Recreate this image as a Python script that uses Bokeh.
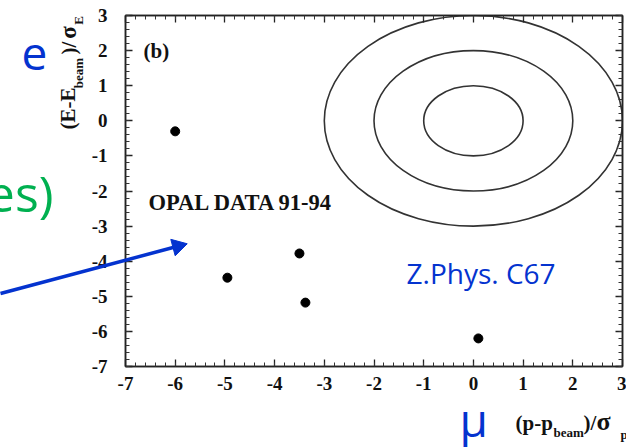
import math
from bokeh.plotting import figure
from bokeh.models import LinearAxis, SingleIntervalTicker, Range1d
from bokeh.core.properties import value
from bokeh.embed import file_html
from bokeh.resources import INLINE

# ---- data ----
mu_dev = [-6.00, -4.95, -3.50, -3.38, 0.10]   # (p - p_beam)/sigma_p
e_dev = [-0.30, -4.47, -3.78, -5.18, -6.20]   # (E - E_beam)/sigma_E
contour_sigma = [1, 2, 3]                      # expected-signal contours
x_ticks = [-7, -6, -5, -4, -3, -2, -1, 0, 1, 2, 3]
y_ticks = [-7, -6, -5, -4, -3, -2, -1, 0, 1, 2, 3]

BLUE = "#0433CF"
GREEN = "#00B050"
SERIF = "Liberation Serif"
SANS = "Open Sans"

p = figure(width=626, height=447, x_range=Range1d(-7, 3), y_range=Range1d(-7, 3),
           output_backend="svg", toolbar_location=None,
           min_border_left=125, min_border_right=4, min_border_top=15, min_border_bottom=81)
p.grid.visible = False
p.outline_line_color = "#222222"
p.outline_line_width = 1.5
p.background_fill_color = "white"
p.border_fill_color = "white"

p.add_layout(LinearAxis(), "above")
p.add_layout(LinearAxis(), "right")

for ax, ticks in ((p.below[0], x_ticks), (p.left[0], y_ticks), (p.above[0], x_ticks), (p.right[0], y_ticks)):
    ax.ticker = SingleIntervalTicker(interval=1, num_minor_ticks=5)
    ax.major_tick_in = 7
    ax.major_tick_out = 0
    ax.minor_tick_in = 4
    ax.minor_tick_out = 0
    ax.axis_line_color = "#222222"
    ax.axis_line_width = 1.5
    ax.major_tick_line_color = "#222222"
    ax.major_tick_line_width = 1.3
    ax.minor_tick_line_color = "#333333"
    ax.minor_tick_line_width = 1
    ax.major_label_text_font = SERIF
    ax.major_label_text_font_style = "bold"
    ax.major_label_text_font_size = "19px"
    ax.major_label_text_color = "#111111"
    ax.major_label_overrides = {t: str(t) for t in ticks}

p.below[0].major_label_standoff = 10
p.left[0].major_label_standoff = 18
for ax, ticks in ((p.above[0], x_ticks), (p.right[0], y_ticks)):
    ax.major_label_overrides = {t: "" for t in ticks}
    ax.major_label_standoff = 0

# contours
p.ellipse(x=[0] * len(contour_sigma), y=[0] * len(contour_sigma),
          width=[2 * r for r in contour_sigma], height=[2 * r for r in contour_sigma],
          fill_color=None, line_color="#333333", line_width=1.6)

# events
p.scatter(mu_dev, e_dev, size=9, color="black")

# ---- annotation placement helpers (picture pixels -> data space) ----
def dx(px):
    return -7 + (px - 125) * 10 / 497

def dy(py):
    return -7 + (366 - py) * 10 / 351

K = 0.36  # baseline correction of the text glyph, in em

def lab(text, px, py, size, font=SERIF, style="bold", color="#111111", align="left"):
    py = py - K * size
    p.text(x=[dx(px)], y=[dy(py)], text=[text], text_font=value(font), text_font_style=style,
           text_font_size=f"{size}px", text_color=color,
           text_align=align, text_baseline="alphabetic", level="overlay")

def vlab(text, cx, cy, size):
    # vertical text, centred on (cx, cy) in picture pixels
    p.text(x=[dx(cx)], y=[dy(cy)], text=[text], text_font=value(SERIF), text_font_style="bold",
           text_font_size=f"{size}px", text_color="#111111", angle=math.pi / 2,
           text_align="center", text_baseline="middle", level="overlay")

lab("(b)", 143, 58, 21)
lab("OPAL DATA 91-94", 148, 210, 22.5)

# y axis title (E-E_beam)/sigma_E
vlab("(E-E", 67, 108, 21)
vlab("beam", 77.5, 72.5, 13)
vlab(")/", 68, 47.5, 21)
vlab("σ", 68, 32, 23)
vlab("E", 78, 20, 13)

# x axis title (p-p_beam)/sigma_p
lab("(p-p", 515, 430, 21)
lab("beam", 553, 437, 13)
lab(")/", 583, 430, 21)
lab("σ", 596, 430, 26)
lab("p", 620, 439, 13)

# slide overlays
lab("e", 21, 70, 46, font=SANS, style="normal", color=BLUE)
lab("es)", 53, 210, 50, font=SANS, style="normal", color=GREEN, align="right")
lab("μ", 459, 435, 46, font=SANS, style="normal", color=BLUE)
lab("Z.Phys. C67", 406, 283, 28, font=SANS, style="normal", color=BLUE)

# arrow (screen-pixel geometry of the slide overlay)
tip = (184, 244)
start = (0, 293)
L = math.hypot(tip[0] - start[0], tip[1] - start[1])
ux, uy = (tip[0] - start[0]) / L, (tip[1] - start[1]) / L
head_c = (tip[0] - 7 * ux, tip[1] - 7 * uy)
ang = math.atan2(-uy, ux) - math.pi / 2
p.segment(x0=[dx(start[0])], y0=[dy(start[1])], x1=[dx(head_c[0])], y1=[dy(head_c[1])],
          line_color=BLUE, line_width=3.5, level="overlay")
p.scatter(x=[dx(head_c[0])], y=[dy(head_c[1])], marker="triangle", size=17, angle=ang,
          fill_color=BLUE, line_color=BLUE, level="overlay")

open("out.html", "w").write(file_html(p, INLINE))
